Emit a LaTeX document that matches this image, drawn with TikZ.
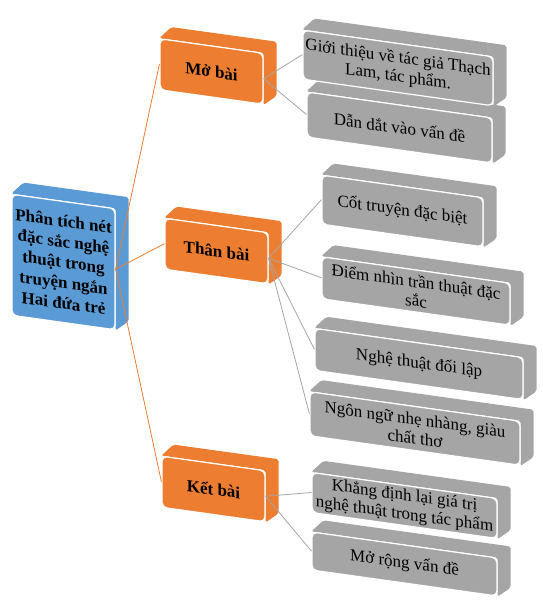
\documentclass[tikz,border=0pt]{standalone}
\usepackage{fontspec}
\setmainfont{Liberation Serif}
\usetikzlibrary{calc,backgrounds}
\definecolor{mainblue}{HTML}{5B9BD5}
\definecolor{partorange}{HTML}{ED7D31}
\definecolor{itemgray}{HTML}{A5A5A5}

\begin{document}
\begin{tikzpicture}[
  x=1pt, y=-1pt,
  box/.style={rectangle, rounded corners=5pt, draw=white, line width=1.2pt, yslant=-0.14, align=center, inner sep=2pt, font=\fontsize{17}{19}\selectfont},
  mainbox/.style={box, fill=mainblue, font=\fontsize{17}{20.5}\selectfont\bfseries},
  partbox/.style={box, fill=partorange, font=\fontsize{17}{20}\selectfont\bfseries, minimum width=103pt, minimum height=51pt},
  itembox/.style={box, fill=itemgray},
  mainline/.style={draw=partorange, line width=0.8pt},
  itemline/.style={draw=itemgray, line width=0.8pt}
]
\useasboundingbox (0,0) rectangle (542,607);

% root
\node[mainbox, minimum width=103pt, minimum height=121pt] (phan) at (63.5,262) {Phân tích nét\\đặc sắc nghệ\\thuật trong\\truyện ngắn\\Hai đứa trẻ};

% parts
\node[partbox] (mo) at (211.5,71.5) {Mở bài};
\node[partbox] (than) at (216.5,251) {Thân bài};
\node[partbox] (ket) at (213.5,489) {Kết bài};

% items
\node[itembox, minimum width=190pt, minimum height=49pt] (gioithieu) at (398,68) {Giới thiệu về tác giả Thạch\\Lam, tác phẩm.};
\node[itembox, minimum width=185pt, minimum height=45pt] (dandat) at (399.5,127.5) {Dẫn dắt vào vấn đề};
\node[itembox, minimum width=161pt, minimum height=49pt] (cottruyen) at (402.5,211) {Cốt truyện đặc biệt};
\node[itembox, minimum width=188pt, minimum height=42pt] (diemnhin) at (416,291) {Điểm nhìn trần thuật đặc\\sắc};
\node[itembox, minimum width=208pt, minimum height=42pt] (doilap) at (419,364) {Nghệ thuật đối lập};
\node[itembox, minimum width=210pt, minimum height=44pt] (ngonngu) at (415,428.5) {Ngôn ngữ nhẹ nhàng, giàu\\chất thơ};
\node[itembox, minimum width=185pt, minimum height=40pt] (khangdinh) at (404.5,505.5) {Khẳng định lại giá trị\\nghệ thuật trong tác phẩm};
\node[itembox, minimum width=185pt, minimum height=38pt] (morong) at (404.5,564) {Mở rộng vấn đề};

% top and side faces
\begin{scope}[on background layer]
\foreach \n/\c in {phan/mainblue, mo/partorange, than/partorange, ket/partorange,
    gioithieu/itemgray, dandat/itemgray, cottruyen/itemgray, diemnhin/itemgray,
    doilap/itemgray, ngonngu/itemgray, khangdinh/itemgray, morong/itemgray}
  \fill[\c, rounded corners=2pt] (\n.north west) -- ++(12,-11) -- ($(\n.north east)+(13,-11)$)
    -- ($(\n.south east)+(13,-9)$) -- (\n.south east) -- (\n.north east) -- cycle;
\end{scope}

% connectors
\draw[mainline] (phan.east) -- (mo.west);
\draw[mainline] (phan.east) -- (than.west);
\draw[mainline] (phan.east) -- (ket.west);
\foreach \g in {gioithieu, dandat}
  \draw[itemline] (mo.east) -- (\g.west);
\foreach \g in {cottruyen, diemnhin, doilap, ngonngu}
  \draw[itemline] (than.east) -- (\g.west);
\foreach \g in {khangdinh, morong}
  \draw[itemline] (ket.east) -- (\g.west);

\end{tikzpicture}
\end{document}
